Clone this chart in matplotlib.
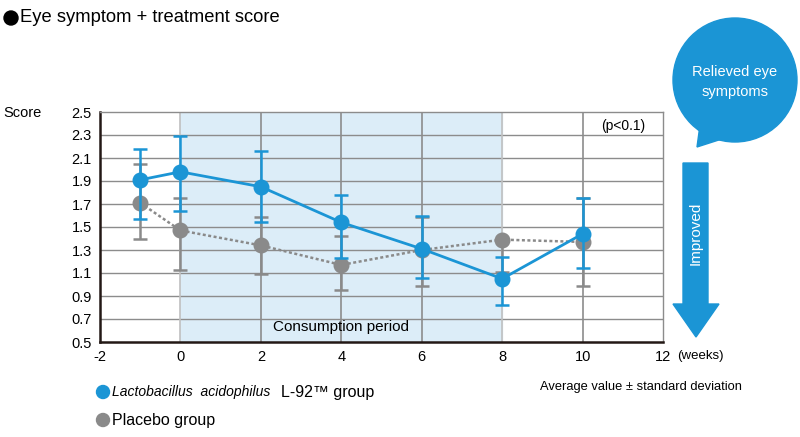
import matplotlib
matplotlib.use("Agg")
import matplotlib.pyplot as plt
from matplotlib.patches import Circle, Polygon
import numpy as np

plt.rcParams['font.family'] = ['Liberation Sans', 'DejaVu Sans']
plt.rcParams['axes.unicode_minus'] = False

# ---- data ----
weeks = [-1, 0, 2, 4, 6, 8, 10]
l92_mean = [1.91, 1.98, 1.85, 1.54, 1.31, 1.05, 1.44]
l92_upper = [2.18, 2.29, 2.16, 1.78, 1.60, 1.24, 1.75]
l92_lower = [1.57, 1.64, 1.54, 1.23, 1.06, 0.82, 1.14]
placebo_mean = [1.71, 1.47, 1.34, 1.17, 1.30, 1.39, 1.37]
placebo_upper = [2.05, 1.75, 1.59, 1.42, 1.59, 1.39, 1.75]
placebo_lower = [1.40, 1.13, 1.09, 0.95, 0.99, 1.11, 0.99]
x_ticks = [-2, 0, 2, 4, 6, 8, 10, 12]
y_ticks = [0.5, 0.7, 0.9, 1.1, 1.3, 1.5, 1.7, 1.9, 2.1, 2.3, 2.5]
period = (0, 8)

BLUE = '#1b95d5'
GRAY = '#8a8a8a'
GRID = '#8c8c8c'

fig = plt.figure(figsize=(8, 4.37), dpi=100)
ax = fig.add_axes([100/800, 1-342/437, 563/800, 230/437])

ax.axvspan(period[0], period[1], color='#dcedf8', zorder=0)
for y in y_ticks[1:-1]:
    ax.axhline(y, color=GRID, lw=1, zorder=1)
for x in x_ticks[1:-1]:
    c = '#c0c0c0' if x in period else GRID
    ax.axvline(x, color=c, lw=1.2, zorder=1)

ax.set_xlim(-2, 12)
ax.set_ylim(0.5, 2.5)
ax.set_xticks(x_ticks)
ax.set_yticks(y_ticks)
ax.set_yticklabels([f'{v:.1f}' for v in y_ticks])
ax.tick_params(length=0, labelsize=10.5, pad=6)
for s in ['top', 'right']:
    ax.spines[s].set_color(GRID)
    ax.spines[s].set_linewidth(1)
for s in ['left', 'bottom']:
    ax.spines[s].set_color('#231815')
    ax.spines[s].set_linewidth(1.8)

pm = np.array(placebo_mean)
perr = [pm - np.array(placebo_lower), np.array(placebo_upper) - pm]
bm = np.array(l92_mean)
berr = [bm - np.array(l92_lower), np.array(l92_upper) - bm]

ax.errorbar(weeks, pm, yerr=perr, fmt='none', ecolor=GRAY, elinewidth=1.8,
            capsize=5, capthick=1.8, zorder=3)
ax.plot(weeks, pm, ls=(0, (1.2, 1.0)), color=GRAY, lw=1.8, marker='o',
        ms=10.5, mfc=GRAY, mec=GRAY, zorder=4)
ax.errorbar(weeks, bm, yerr=berr, fmt='none', ecolor=BLUE, elinewidth=1.8,
            capsize=5, capthick=1.8, zorder=5)
ax.plot(weeks, bm, '-', color=BLUE, lw=2.0, marker='o', ms=10.5,
        mfc=BLUE, mec=BLUE, zorder=6)

ax.text(4, 0.63, 'Consumption period', ha='center', va='center', fontsize=11, zorder=7)
ax.text(11.55, 2.38, '(p<0.1)', ha='right', va='center', fontsize=10, zorder=7)

# overlay for decorations (pixel coordinates)
ov = fig.add_axes([0, 0, 1, 1], zorder=-1)
ov.set_xlim(0, 800)
ov.set_ylim(437, 0)
ov.axis('off')

ov.add_patch(Circle((11, 18), 7, color='black'))
fig.text(20/800, 1-18/437, 'Eye symptom + treatment score', fontsize=13.2, va='center', ha='left')
fig.text(3/800, 1-113/437, 'Score', fontsize=10.5, va='center', ha='left')
fig.text(677/800, 1-356/437, '(weeks)', fontsize=9.5, va='center', ha='left')
fig.text(540/800, 1-387/437, 'Average value ± standard deviation', fontsize=9.3, va='center', ha='left')

# legend
ov.add_patch(Circle((103, 392), 6.5, color=BLUE))
ov.add_patch(Circle((103, 420), 6.5, color=GRAY))
t1 = fig.text(112/800, 1-392/437, 'Lactobacillus  acidophilus', style='italic',
              fontsize=10, va='center', ha='left')
ax.annotate('L-92™ group', xy=(1, 0.5), xycoords=t1, xytext=(8, 0),
            textcoords='offset points', va='center', ha='left', fontsize=11.5,
            annotation_clip=False)
fig.text(112/800, 1-420/437, 'Placebo group', fontsize=11.5, va='center', ha='left')

# speech bubble
ov2 = fig.add_axes([0, 0, 1, 1], zorder=5)
ov2.set_xlim(0, 800)
ov2.set_ylim(437, 0)
ov2.axis('off')
ov2.add_patch(Circle((735, 80), 62, color=BLUE))
ov2.add_patch(Polygon([[700, 125], [697, 147], [725, 138]], closed=True, color=BLUE))
ov2.text(735, 82, 'Relieved eye\nsymptoms', color='white', ha='center', va='center',
         fontsize=10.5, linespacing=1.6)
# arrow
ov2.add_patch(Polygon([[683, 163], [708, 163], [708, 304], [719, 304], [696, 337],
                       [673, 304], [683, 304]], closed=True, color=BLUE))
ov2.text(696, 233, 'Improved', color='white', rotation=90, ha='center', va='center',
         fontsize=11)

fig.savefig('out.png', dpi=100)
